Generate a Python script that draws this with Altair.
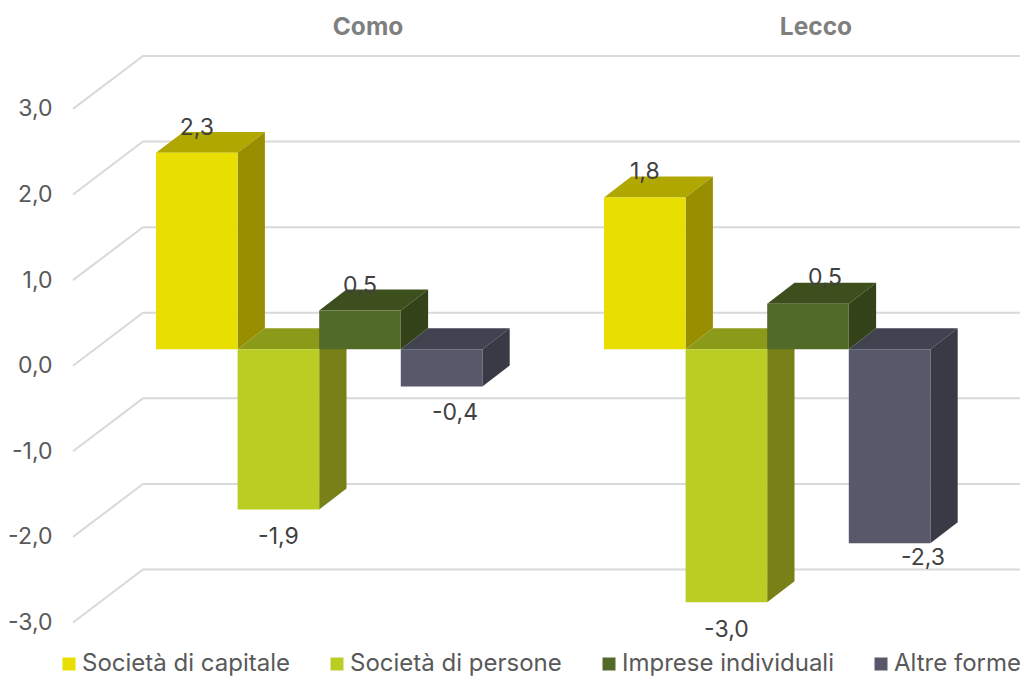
import altair as alt
import pandas as pd

# --- data
groups = ["Como", "Lecco"]
series = ["Società di capitale", "Società di persone", "Imprese individuali", "Altre forme"]
como = [2.33, -1.9, 0.46, -0.44]
lecco = [1.8, -3.0, 0.54, -2.3]
ticks = [-3, -2, -1, 0, 1, 2, 3]

# --- colours
front_colors = ["#E8DF00", "#BACD22", "#526A27", "#575869"]
top_colors = ["#B0A800", "#8C9A1A", "#3E4F1E", "#41424F"]
side_colors = ["#978F00", "#7A8018", "#334219", "#383B45"]

# --- layout of the oblique projection (x unit = one pixel, y unit = one value step)
FONT = "Inter"
PAD_L, PLOT_W = 52, 960
X_MIN = 60
Y_TOP, Y_BOTTOM = 4.179, -3.321
PLOT_H = 642
WALL_X0, WALL_X1, WALL_END = 73, 143, 1020
WALL_RISE = 0.619
GROUP_X = [156, 604]
BAR_W = 81.6
DEPTH_X = 27.3
DEPTH_Y = 0.245
BASE = 0.1916
K = 0.985
PX = 85.6
label_dx = [[0, 0, 0, 13.4], [0, 0, 17, 33.4]]
label_dy = [[-25, 27, -25, 27], [-26, 28, -26, 15]]
title_x = [368, 816]
TITLE_Y = 3.95

grid, fronts, tops, sides, labels = [], [], [], [], []
for v in ticks:
    for x, y in [(WALL_X0, v), (WALL_X1, v + WALL_RISE), (WALL_END, v + WALL_RISE)]:
        grid.append({"tick": v, "x": x, "y": y})

for g, vals in enumerate([como, lecco]):
    for i, v in enumerate(vals):
        key = f"k{g}{i}"
        x0 = GROUP_X[g] + i * BAR_W
        x1 = x0 + BAR_W
        y0 = BASE
        yv = BASE + K * v
        ytop = max(y0, yv)
        ybot = min(y0, yv)
        fronts.append({"series": series[i], "x": x0, "x2": x1, "y": ybot, "y2": ytop})
        tops.append({"key": key, "c": top_colors[i], "y": ytop, "x": x0, "x2": x1})
        tops.append({"key": key, "c": top_colors[i], "y": ytop + DEPTH_Y, "x": x0 + DEPTH_X, "x2": x1 + DEPTH_X})
        sides.append({"key": key, "c": side_colors[i], "x": x1, "y": ybot, "y2": ytop})
        sides.append({"key": key, "c": side_colors[i], "x": x1 + DEPTH_X, "y": ybot + DEPTH_Y, "y2": ytop + DEPTH_Y})
        labels.append({
            "t": f"{v:.1f}".replace(".", ","),
            "x": x0 + BAR_W / 2 + label_dx[g][i],
            "y": yv - label_dy[g][i] / PX,
        })

titles = pd.DataFrame({"t": groups, "x": title_x, "y": [TITLE_Y, TITLE_Y]})

xs = alt.Scale(domain=[X_MIN, X_MIN + PLOT_W], nice=False, zero=False)
ys = alt.Scale(domain=[Y_BOTTOM, Y_TOP], nice=False, zero=False)
y_axis = alt.Axis(
    values=ticks, title=None, domain=False, ticks=False, grid=False,
    labelFont=FONT, labelFontSize=23, labelColor="#595959", labelPadding=8,
    labelExpr="(datum.value < 0 ? '-' : '') + replace(format(abs(datum.value), '.1f'), '.', ',')")
X = alt.X("x:Q", scale=xs, axis=None)
Y = alt.Y("y:Q", scale=ys, axis=y_axis, stack=False)
Xn = alt.X("x:Q", scale=xs, axis=None, stack=False)

grid_layer = alt.Chart(pd.DataFrame(grid)).mark_line(color="#D9D9D9", strokeWidth=2).encode(
    x=X, y=Y, detail="tick:N", order=alt.Order("x:Q"))

top_layer = alt.Chart(pd.DataFrame(tops)).mark_area(orient="horizontal").encode(
    y=Y, x=Xn, x2="x2:Q", detail="key:N", fill=alt.Fill("c:N", scale=None))

side_layer = alt.Chart(pd.DataFrame(sides)).mark_area(orient="vertical").encode(
    x=X, y=Y, y2="y2:Q", detail="key:N", fill=alt.Fill("c:N", scale=None))

front_layer = alt.Chart(pd.DataFrame(fronts)).mark_rect().encode(
    x=X, x2="x2:Q", y=Y, y2="y2:Q",
    color=alt.Color("series:N", scale=alt.Scale(domain=series, range=front_colors), sort=series,
                    legend=alt.Legend(orient="none", legendX=-3, legendY=644, direction="horizontal",
                                      columns=4, title=None, symbolType="square", symbolSize=169,
                                      symbolStrokeWidth=0, labelFont=FONT, labelFontSize=24,
                                      labelColor="#595959", columnPadding=35, labelOffset=1,
                                      padding=0, labelLimit=400)),
)

label_layer = alt.Chart(pd.DataFrame(labels)).mark_text(
    font=FONT, fontSize=23, color="#404040", baseline="middle").encode(x=X, y=Y, text="t:N")

title_layer = alt.Chart(titles).mark_text(
    font=FONT, fontSize=24.5, fontWeight="bold", color="#7F7F7F", baseline="middle").encode(x=X, y=Y, text="t:N")

chart = alt.layer(grid_layer, top_layer, side_layer, front_layer, label_layer, title_layer).properties(
    width=PLOT_W, height=PLOT_H,
    autosize=alt.AutoSizeParams(type="none"),
    padding={"left": PAD_L, "top": 0, "right": 0, "bottom": 26},
).configure_view(stroke=None)

chart.save("out.html", embed_options={"renderer": "svg", "actions": False})
